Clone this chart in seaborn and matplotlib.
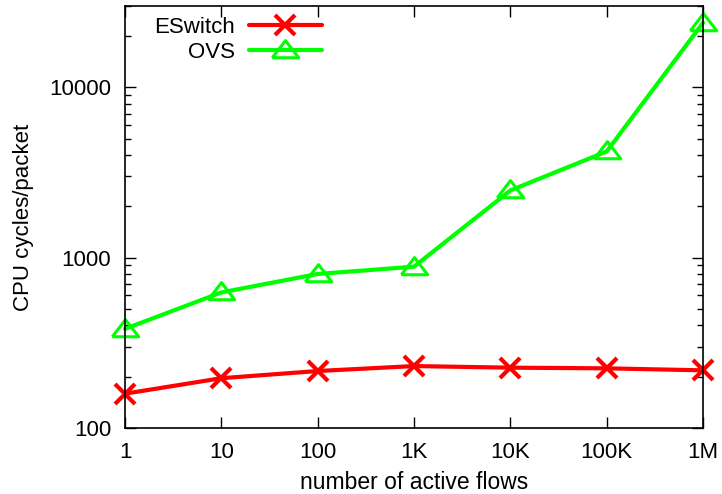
import pandas as pd
import matplotlib.pyplot as plt
import seaborn as sns
import numpy as np
from matplotlib.ticker import LogLocator, NullFormatter, FixedLocator

# values (CPU cycles per packet)
flows = ["1", "10", "100", "1K", "10K", "100K", "1M"]
eswitch = [159, 196, 216, 231, 226, 224, 218]
ovs = [382, 625, 802, 885, 2480, 4200, 23900]

df = pd.DataFrame({
    "pos": list(range(len(flows))) * 2,
    "cycles": eswitch + ovs,
    "system": ["ESwitch"] * len(flows) + ["OVS"] * len(flows),
})

sns.set_style("ticks")
plt.rcParams["font.family"] = ["Liberation Sans", "DejaVu Sans"]
for k in ["text.color", "axes.labelcolor", "xtick.color", "ytick.color"]:
    plt.rcParams[k] = "black"

fig = plt.figure(figsize=(7.22, 4.94), dpi=100)
ax = fig.add_axes([125 / 722, 1 - 428 / 494, 578 / 722, 422 / 494])

# gnuplot-ish flat triangle
tri = [(-1, -0.55), (1, -0.55), (0, 0.75), (-1, -0.55)]

sns.lineplot(data=df[df.system == "ESwitch"], x="pos", y="cycles", ax=ax,
             color="#ff0000", lw=3, marker="x", markersize=14, mew=3,
             markeredgecolor="#ff0000", label="ESwitch", clip_on=False)
sns.lineplot(data=df[df.system == "OVS"], x="pos", y="cycles", ax=ax,
             color="#00ff00", lw=3, marker=tri, markersize=19, mew=2.2,
             markerfacecolor="none", markeredgecolor="#00ff00",
             label="OVS", clip_on=False)

ax.set_yscale("log")
ax.set_ylim(100, 30000)
ax.set_xlim(0, len(flows) - 1)
ax.set_xticks(range(len(flows)))
ax.set_xticklabels(flows)
ax.yaxis.set_major_locator(FixedLocator([100, 1000, 10000]))
ax.yaxis.set_major_formatter(plt.FuncFormatter(lambda v, p: f"{int(v)}"))
ax.yaxis.set_minor_locator(LogLocator(base=10, subs=np.arange(2, 10)))
ax.yaxis.set_minor_formatter(NullFormatter())

ax.tick_params(axis="both", which="major", direction="in", length=8, width=1,
               top=True, right=True, labelsize=16, pad=10)
ax.tick_params(axis="x", which="major", pad=10)
ax.tick_params(axis="y", which="minor", direction="in", length=4, width=1,
               right=True)
for s in ax.spines.values():
    s.set_color("black")
    s.set_linewidth(1.2)

ax.set_xlabel("number of active flows", fontsize=16.5, labelpad=6)
ax.set_ylabel("CPU cycles/packet", fontsize=16, labelpad=11)

ax.legend(loc="upper right", bbox_to_anchor=((322 - 125) / 578, 0.975),
          frameon=False, fontsize=16, markerfirst=False, handlelength=3.3,
          handletextpad=0.6, borderpad=0, labelspacing=0.2, borderaxespad=0)

fig.savefig("out.png", dpi=100)
